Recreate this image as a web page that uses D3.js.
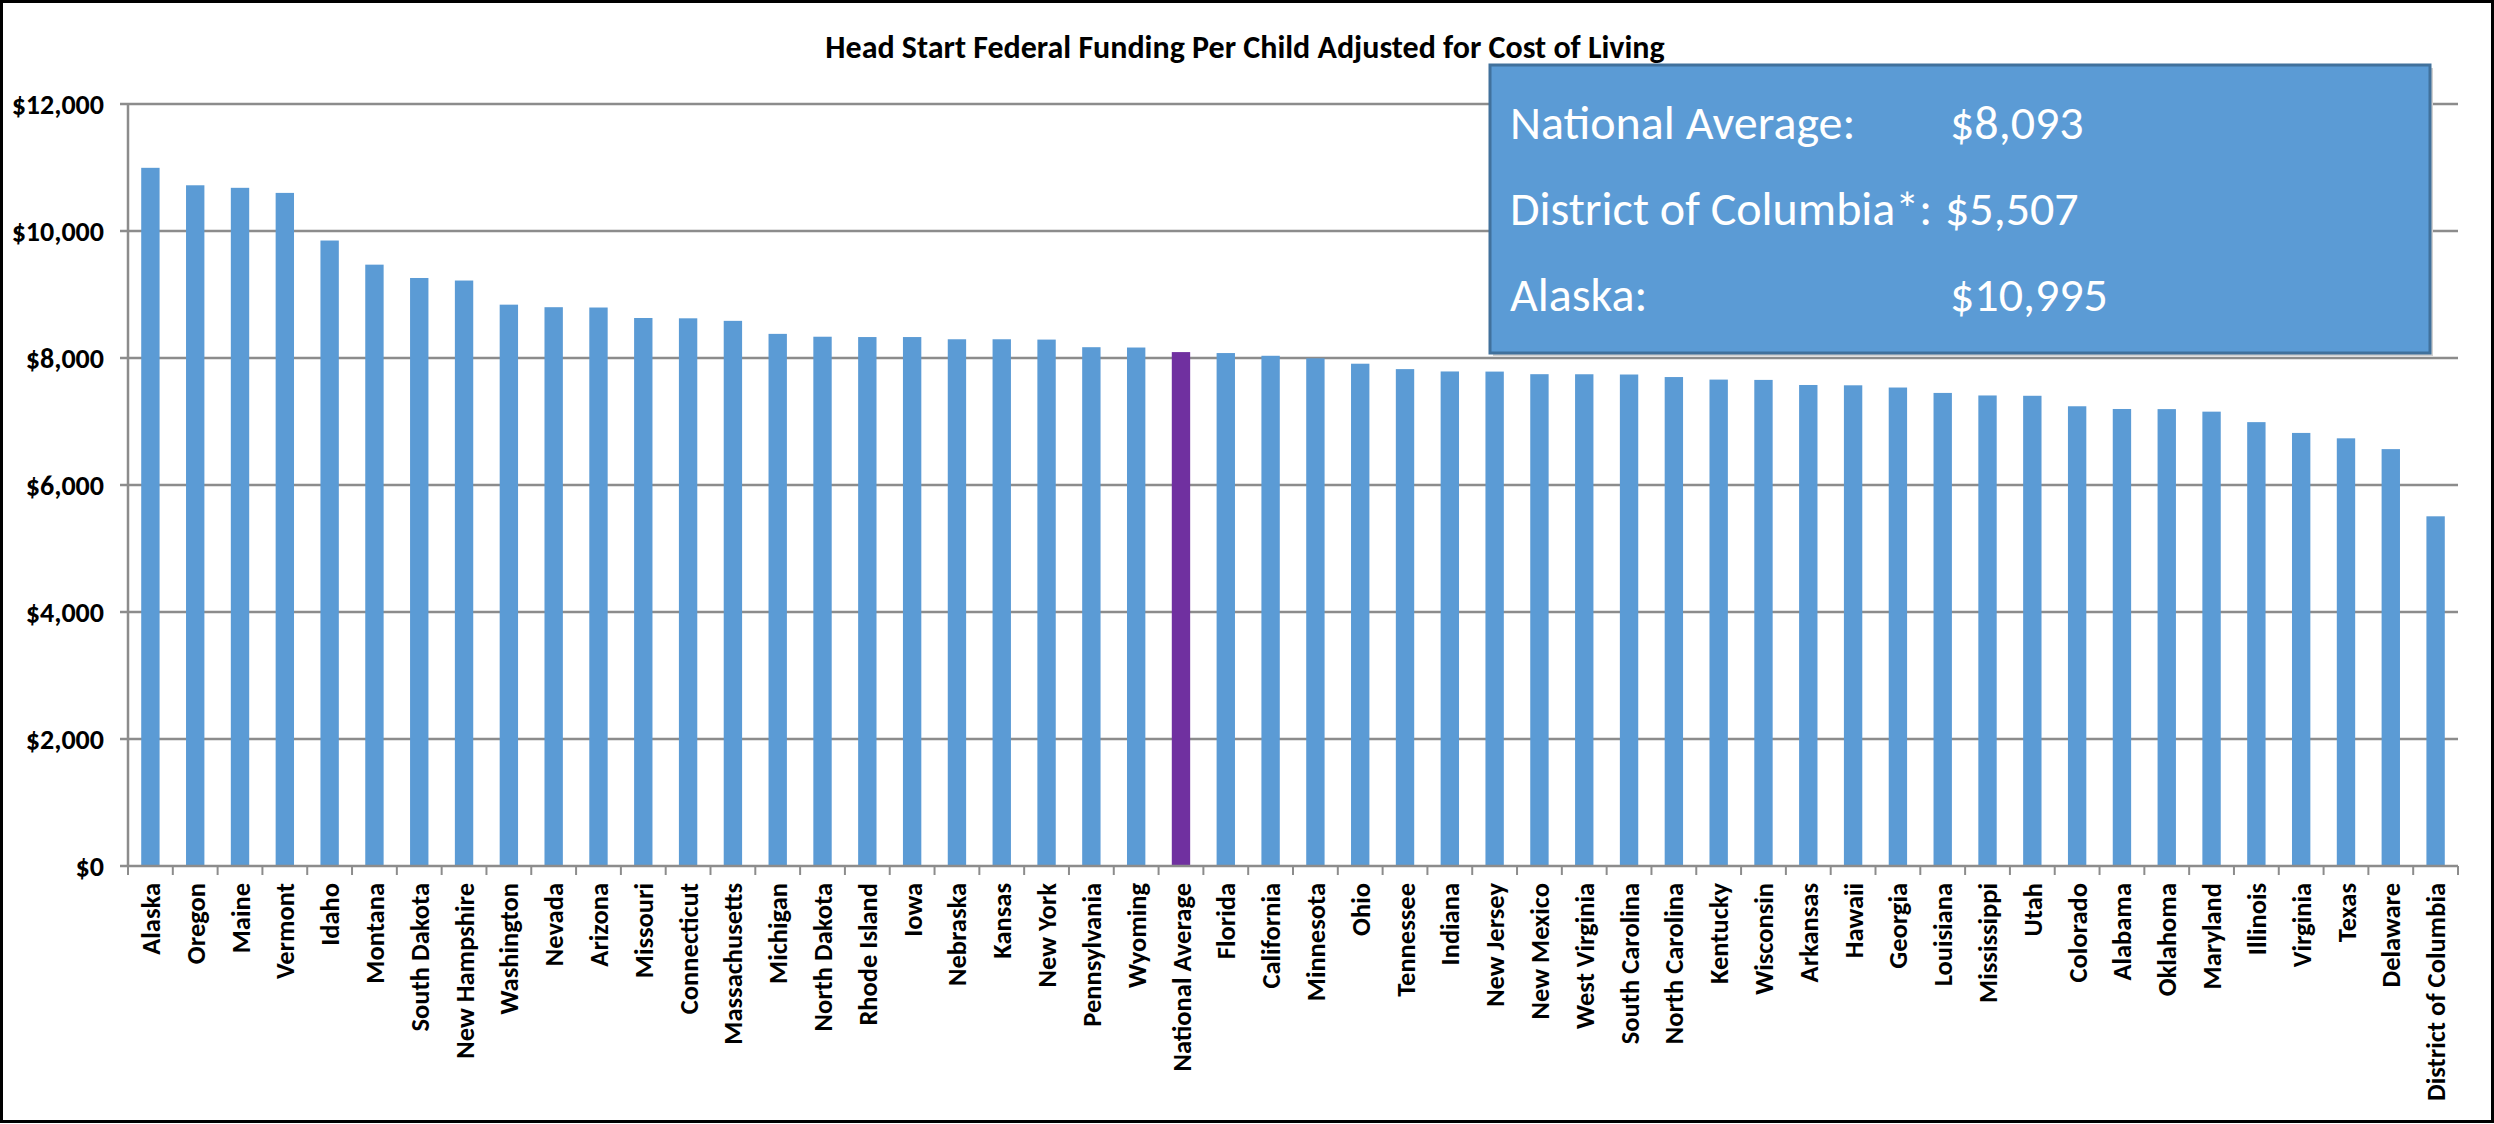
<!DOCTYPE html>
<html>
<head>
<meta charset="utf-8">
<script src="https://cdn.jsdelivr.net/npm/d3@7"></script>
<style>
  html, body { margin: 0; padding: 0; background: #fff; }
  svg { display: block; font-family: Carlito, Calibri, Lato, "Open Sans", sans-serif; }
</style>
</head>
<body>
<div id="chart"></div>
<script>
// Stati in ordine decrescente, con la media nazionale inserita al suo posto
const states = [
  "Alaska", "Oregon", "Maine", "Vermont", "Idaho", "Montana", "South Dakota", "New Hampshire",
  "Washington", "Nevada", "Arizona", "Missouri", "Connecticut", "Massachusetts", "Michigan",
  "North Dakota", "Rhode Island", "Iowa", "Nebraska", "Kansas", "New York", "Pennsylvania",
  "Wyoming", "National Average", "Florida", "California", "Minnesota", "Ohio", "Tennessee",
  "Indiana", "New Jersey", "New Mexico", "West Virginia", "South Carolina", "North Carolina",
  "Kentucky", "Wisconsin", "Arkansas", "Hawaii", "Georgia", "Louisiana", "Mississippi", "Utah",
  "Colorado", "Alabama", "Oklahoma", "Maryland", "Illinois", "Virginia", "Texas", "Delaware",
  "District of Columbia",
];

// Finanziamento per bambino (dollari)
const fundingPerChild = [
  10995, 10720, 10680, 10600, 9850, 9470, 9260, 9220,
  8840, 8800, 8795, 8630, 8625, 8585, 8380,
  8335, 8330, 8330, 8295, 8295, 8290, 8170,
  8165, 8093, 8078, 8035, 7995, 7910, 7825,
  7788, 7786, 7745, 7744, 7740, 7700,
  7660, 7655, 7575, 7570, 7535, 7450, 7410, 7405,
  7240, 7197, 7195, 7155, 6990, 6820, 6735, 6565,
  5507,
];

const yTicks = [0, 2000, 4000, 6000, 8000, 10000, 12000];

// Righe del riquadro informativo
const calloutLabels = ["National Average:", "District of Columbia*:", "Alaska:"];
const calloutValues = ["$8,093", "$5,507", "$10,995"];

const chartTitle = "Head Start Federal Funding Per Child Adjusted for Cost of Living";

const width = 2494;
const height = 1124;
const plot = { left: 128, right: 2458, top: 104, bottom: 866 };
const gridColor = "#8c8c8c";
const barColor = "#5B9BD5";
const avgColor = "#7030A0";

const data = states.map((s, i) => ({ state: s, value: fundingPerChild[i] }));

const svg = d3.select("#chart").append("svg").attr("width", width).attr("height", height);

svg.append("rect").attr("width", width).attr("height", height).attr("fill", "#fff");

const x = d3.scaleBand().domain(states).range([plot.left, plot.right]).padding(0);
const y = d3.scaleLinear().domain([0, 12000]).range([plot.bottom, plot.top]);
const barW = x.bandwidth() * 0.41;

// Griglia orizzontale
svg
  .append("g")
  .selectAll("line")
  .data(yTicks.filter((t) => t > 0))
  .join("line")
  .attr("x1", plot.left - 8)
  .attr("x2", plot.right)
  .attr("y1", (d) => y(d))
  .attr("y2", (d) => y(d))
  .attr("stroke", gridColor)
  .attr("stroke-width", 2.5);

// Barre
svg
  .append("g")
  .selectAll("rect")
  .data(data)
  .join("rect")
  .attr("x", (d) => x(d.state) + (x.bandwidth() - barW) / 2)
  .attr("width", barW)
  .attr("y", (d) => y(d.value))
  .attr("height", (d) => y(0) - y(d.value))
  .attr("fill", (d) => (d.state === "National Average" ? avgColor : barColor));

// Asse Y
svg
  .append("line")
  .attr("x1", plot.left)
  .attr("x2", plot.left)
  .attr("y1", plot.top)
  .attr("y2", plot.bottom)
  .attr("stroke", gridColor)
  .attr("stroke-width", 2.5);

svg
  .append("g")
  .selectAll("text")
  .data(yTicks)
  .join("text")
  .attr("x", plot.left - 24)
  .attr("y", (d) => y(d))
  .attr("dy", "0.36em")
  .attr("text-anchor", "end")
  .attr("font-size", 28)
  .attr("font-weight", "bold")
  .attr("fill", "#000")
  .text((d) => "$" + d3.format(",")(d));

// Asse X con tacche ai confini delle categorie
svg
  .append("line")
  .attr("x1", plot.left - 8)
  .attr("x2", plot.right)
  .attr("y1", plot.bottom)
  .attr("y2", plot.bottom)
  .attr("stroke", gridColor)
  .attr("stroke-width", 2.5);

const tickXs = states.map((s) => x(s)).concat([plot.right]);
svg
  .append("g")
  .selectAll("line")
  .data(tickXs)
  .join("line")
  .attr("x1", (d) => d)
  .attr("x2", (d) => d)
  .attr("y1", plot.bottom)
  .attr("y2", plot.bottom + 9)
  .attr("stroke", gridColor)
  .attr("stroke-width", 2);

svg
  .append("g")
  .selectAll("text")
  .data(states)
  .join("text")
  .attr("transform", (d) => `translate(${x(d) + x.bandwidth() / 2},${plot.bottom + 17}) rotate(-90)`)
  .attr("dy", "0.36em")
  .attr("text-anchor", "end")
  .attr("font-size", 26.5)
  .attr("font-weight", "bold")
  .attr("fill", "#000")
  .text((d) => d);

// Titolo
svg
  .append("text")
  .attr("x", 1245)
  .attr("y", 58)
  .attr("text-anchor", "middle")
  .attr("font-size", 32)
  .attr("font-weight", "bold")
  .attr("fill", "#000")
  .text(chartTitle);

// Riquadro con i valori chiave
const box = svg.append("g").attr("transform", "translate(1490,65)");
box.append("rect").attr("x", 3).attr("y", 3).attr("width", 940).attr("height", 288).attr("fill", "#d0d0d0");
box
  .append("rect")
  .attr("width", 940)
  .attr("height", 288)
  .attr("fill", barColor)
  .attr("stroke", "#41719C")
  .attr("stroke-width", 3);

calloutLabels.forEach((label, i) => {
  const by = 74 + i * 86;
  box
    .append("text")
    .attr("x", 20)
    .attr("y", by)
    .attr("font-size", 48)
    .attr("fill", "#fff")
    .text(label);
  box
    .append("text")
    .attr("x", i === 1 ? 455 : 460)
    .attr("y", by)
    .attr("font-size", 48)
    .attr("fill", "#fff")
    .text(calloutValues[i]);
});

// Cornice esterna
svg
  .append("rect")
  .attr("x", 1.5)
  .attr("y", 1.5)
  .attr("width", width - 3)
  .attr("height", height - 4)
  .attr("fill", "none")
  .attr("stroke", "#000")
  .attr("stroke-width", 3);
</script>
</body>
</html>
